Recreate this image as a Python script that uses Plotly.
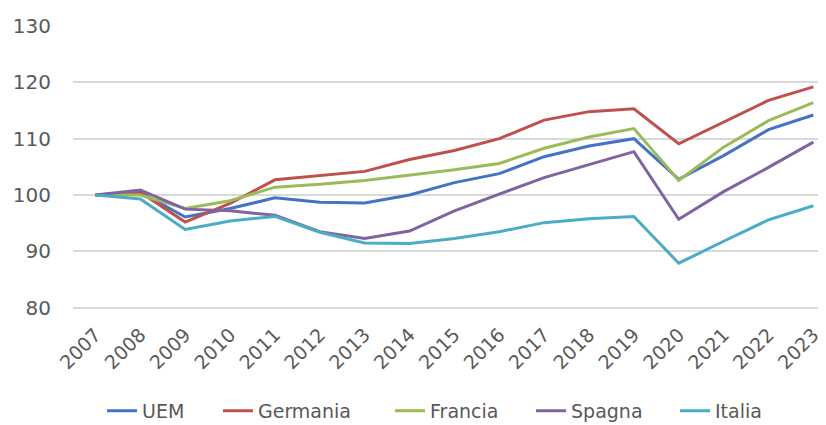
import plotly.graph_objects as go

years = list(range(2007, 2024))

uem = [100, 100.5, 96.1, 97.6, 99.5, 98.7, 98.6, 100.0, 102.2, 103.8, 106.8, 108.7, 110.0, 102.8, 107.0, 111.6, 114.2]
germania = [100, 100.5, 95.2, 98.5, 102.7, 103.5, 104.2, 106.3, 107.9, 110.0, 113.3, 114.8, 115.3, 109.1, 113.0, 116.8, 119.2]
francia = [100, 100.0, 97.6, 99.0, 101.4, 101.9, 102.6, 103.5, 104.5, 105.6, 108.3, 110.3, 111.8, 102.6, 108.5, 113.2, 116.4]
spagna = [100, 100.9, 97.5, 97.2, 96.4, 93.5, 92.3, 93.6, 97.2, 100.1, 103.1, 105.4, 107.7, 95.7, 100.6, 104.9, 109.4]
italia = [100, 99.3, 93.9, 95.4, 96.2, 93.4, 91.5, 91.4, 92.3, 93.5, 95.1, 95.8, 96.2, 87.9, 91.8, 95.6, 98.1]

SERIES = [
    ("UEM", uem, "#4472C4"),
    ("Germania", germania, "#C0504D"),
    ("Francia", francia, "#9BBB59"),
    ("Spagna", spagna, "#8064A2"),
    ("Italia", italia, "#4BACC6"),
]
# one legend per series so the entries sit where the reference has them
LEGEND_X = [0.1138, 0.2542, 0.4625, 0.6332, 0.8075]

FONT = "'DejaVu Sans', sans-serif"
GREY = "#595959"
GRID = "#d9d9d9"
CLEAR = "rgba(0,0,0,0)"

fig = go.Figure()
legends = {}
for i, ((name, vals, color), lx) in enumerate(zip(SERIES, LEGEND_X)):
    key = "legend" if i == 0 else f"legend{i + 1}"
    fig.add_trace(go.Scatter(x=years, y=vals, name=name, mode="lines", legend=key,
                             showlegend=True, line=dict(color=color, width=3)))
    legends[key] = dict(orientation="h", xref="container", yref="container", x=lx, y=0.052,
                        xanchor="left", yanchor="middle", bgcolor=CLEAR,
                        font=dict(size=19, color=GREY, family=FONT), itemwidth=30)

# page body has an 8px margin, so the margins below are shifted by -8
# y range starts a bit under 80 so the 80 gridline is not culled at the edge
fig.update_xaxes(range=[2006.5, 2023.46], tickvals=years, ticktext=[str(y) for y in years],
                 tickangle=-45, showgrid=False, zeroline=False, showline=False, automargin=False,
                 tickfont=dict(size=19, color=GREY, family=FONT), ticks="")
fig.update_yaxes(range=[78, 130], tickvals=[80, 90, 100, 110, 120, 130],
                 showgrid=True, gridcolor=GRID, gridwidth=2,
                 zeroline=False, showline=False, automargin=False,
                 ticks="outside", ticklen=17, tickcolor=CLEAR,
                 tickfont=dict(size=20, color=GREY, family=FONT))

fig.update_layout(
    width=826, height=425,
    margin=dict(l=65, r=0, t=18, b=114),
    plot_bgcolor="white", paper_bgcolor="white",
    font=dict(family=FONT, color=GREY),
    showlegend=True,
    **legends,
)

fig.write_html("out.html")
